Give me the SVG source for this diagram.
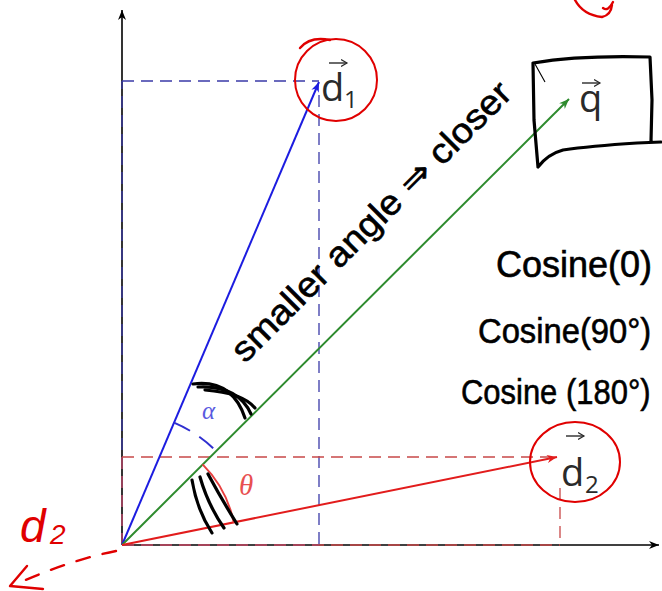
<svg xmlns="http://www.w3.org/2000/svg" width="662" height="591" viewBox="0 0 662 591">
<style>
.axis{stroke:#000;stroke-width:1.6;fill:none}
.pb{stroke:#3a3aa8;stroke-width:1.3;fill:none;stroke-dasharray:12 7}
.pr{stroke:#c84848;stroke-width:1.3;fill:none;stroke-dasharray:12 7}
.vb{stroke:#1c1ce0;stroke-width:2;fill:none}
.vg{stroke:#2e8b2e;stroke-width:2;fill:none}
.vr{stroke:#e21c1c;stroke-width:2;fill:none}
.hw{stroke:#000;stroke-width:3.2;fill:none;stroke-linecap:round;stroke-linejoin:round}
.hr{stroke:#e00000;stroke-width:2.4;fill:none;stroke-linecap:round;stroke-linejoin:round}
.lab{font-family:"Open Sans","DejaVu Sans",sans-serif;fill:#2a2a2a}
.hand{font-family:"Liberation Sans","DejaVu Sans",sans-serif;fill:#000;stroke:#000;stroke-width:0.6}
.vecarr{stroke:#2a2a2a;stroke-width:1.4;fill:none}
</style>
<defs>
<marker id="mk" markerUnits="userSpaceOnUse" markerWidth="12" markerHeight="10" refX="10" refY="4" orient="auto"><path d="M0,0 L10,4 L0,8 L3,4 Z" fill="#000"/></marker>
<marker id="mb" markerUnits="userSpaceOnUse" markerWidth="12" markerHeight="10" refX="10" refY="4" orient="auto"><path d="M0,0 L10,4 L0,8 L3,4 Z" fill="#1c1ce0"/></marker>
<marker id="mg" markerUnits="userSpaceOnUse" markerWidth="12" markerHeight="10" refX="10" refY="4" orient="auto"><path d="M0,0 L10,4 L0,8 L3,4 Z" fill="#2e8b2e"/></marker>
<marker id="mr" markerUnits="userSpaceOnUse" markerWidth="12" markerHeight="10" refX="10" refY="4" orient="auto"><path d="M0,0 L10,4 L0,8 L3,4 Z" fill="#e21c1c"/></marker>
<marker id="ms" markerUnits="userSpaceOnUse" markerWidth="8" markerHeight="8" refX="6" refY="4" orient="auto"><path d="M0,0.5 L6,4 L0,7.5" fill="none" stroke="#2a2a2a" stroke-width="1.2"/></marker>
</defs>

<g id="axes">
<line class="axis" x1="122" y1="545" x2="122" y2="10" marker-end="url(#mk)"/>
<line class="axis" x1="122" y1="545" x2="659" y2="545" marker-end="url(#mk)"/>
</g>

<g id="projections">
<line class="pb" x1="122" y1="545" x2="122" y2="81"/>
<line class="pb" x1="122" y1="545" x2="319" y2="545"/>
<line class="pb" x1="122" y1="81" x2="319" y2="81"/>
<line class="pb" x1="319" y1="95" x2="319" y2="545"/>
<line class="pr" x1="122" y1="545" x2="122" y2="457"/>
<line class="pr" x1="122" y1="545" x2="560" y2="545"/>
<line class="pr" x1="122" y1="457" x2="556" y2="457"/>
<line class="pr" x1="560" y1="488" x2="560" y2="545"/>
</g>

<g id="connectors">
<line class="vb" x1="122" y1="545" x2="319" y2="82" marker-end="url(#mb)"/>
<line class="vg" x1="122" y1="545" x2="569" y2="99" marker-end="url(#mg)"/>
<line class="vr" x1="122" y1="545" x2="557" y2="457" marker-end="url(#mr)"/>
<path d="M174,422.6 A133,133 0 0 1 216,451" stroke="#2f2fd0" stroke-width="2" fill="none" stroke-dasharray="18 11"/>
<path d="M202.6,464.4 A114,114 0 0 1 233.75,522.5" stroke="#e84040" stroke-width="2" fill="none"/>
</g>

<g id="angle-labels">
<text x="202" y="419" font-family="Liberation Serif,serif" font-style="italic" font-size="25" fill="#5a5ae0">α</text>
<text x="239" y="495" font-family="Liberation Serif,serif" font-style="italic" font-size="29" fill="#e85050">θ</text>
</g>

<g id="node-d1">
<text class="lab" x="321" y="101" font-size="38">d</text>
<text class="lab" x="344" y="108" font-size="24">1</text>
<line class="vecarr" x1="329" y1="63" x2="347" y2="63" marker-end="url(#ms)"/>
<ellipse cx="336" cy="80" rx="41" ry="41" stroke="#e00000" stroke-width="2" fill="none"/>
<path class="hr" d="M300,48 Q310,36 330,40" stroke-width="1.6"/>
</g>

<g id="node-q">
<text class="lab" x="579" y="112" font-size="38">q</text>
<line class="vecarr" x1="582" y1="83" x2="600" y2="83" marker-end="url(#ms)"/>
<path class="hw" d="M533,63 Q580,55 650,57 L652,100 L651,141 M661,142 L637,143 Q590,146 563,150 Q548,154 538,167 L534,120 L533,63" stroke-width="3.6"/>
<path d="M543,61 L535,64 L545,82" stroke="#000" stroke-width="1.1" fill="none"/>
</g>

<g id="node-d2">
<text class="lab" x="561" y="486" font-size="38">d</text>
<text class="lab" x="585" y="493" font-size="24">2</text>
<line class="vecarr" x1="566" y1="436" x2="584" y2="436" marker-end="url(#ms)"/>
<ellipse cx="575" cy="462" rx="45" ry="40" stroke="#e00000" stroke-width="2" fill="none"/>
</g>

<g id="annotations">
<path class="hw" d="M193,384 Q232,379 245,418"/>
<path class="hw" d="M198,387 Q238,385 251,414"/>
<path class="hw" d="M205,390 Q243,393 255,408"/>
<path class="hw" d="M192,480 Q197,510 212,533"/>
<path class="hw" d="M200,477 Q208,505 224,528"/>
<path class="hw" d="M208,474 Q222,500 237,524" stroke-width="4"/>
<text class="hand" transform="translate(245,364) rotate(-45)" font-size="35" textLength="380" lengthAdjust="spacingAndGlyphs">smaller angle ⇒ closer</text>
<text class="hand" x="496" y="277" font-size="36">Cosine(0)</text>
<text class="hand" transform="translate(478,343) scale(0.91,1)" font-size="36">Cosine(90°)</text>
<text class="hand" transform="translate(461,404) scale(0.86,1)" font-size="36">Cosine (180°)</text>
<text x="20" y="542" font-family="Liberation Sans,sans-serif" font-style="italic" font-size="46" fill="#e00000">d</text>
<text x="50" y="544" font-family="Liberation Sans,sans-serif" font-style="italic" font-size="28" fill="#e00000">2</text>
<path class="hr" d="M116,551 Q70,560 14,585" stroke-dasharray="14 13"/>
<path class="hr" d="M27,566 L10,586 L43,589"/>
<path class="hr" d="M575,0 Q583,15 602,17 Q611,15 612,5"/>
<path class="hr" d="M603,8 Q608,12 613,2" stroke-width="1.8"/>
</g>
</svg>
